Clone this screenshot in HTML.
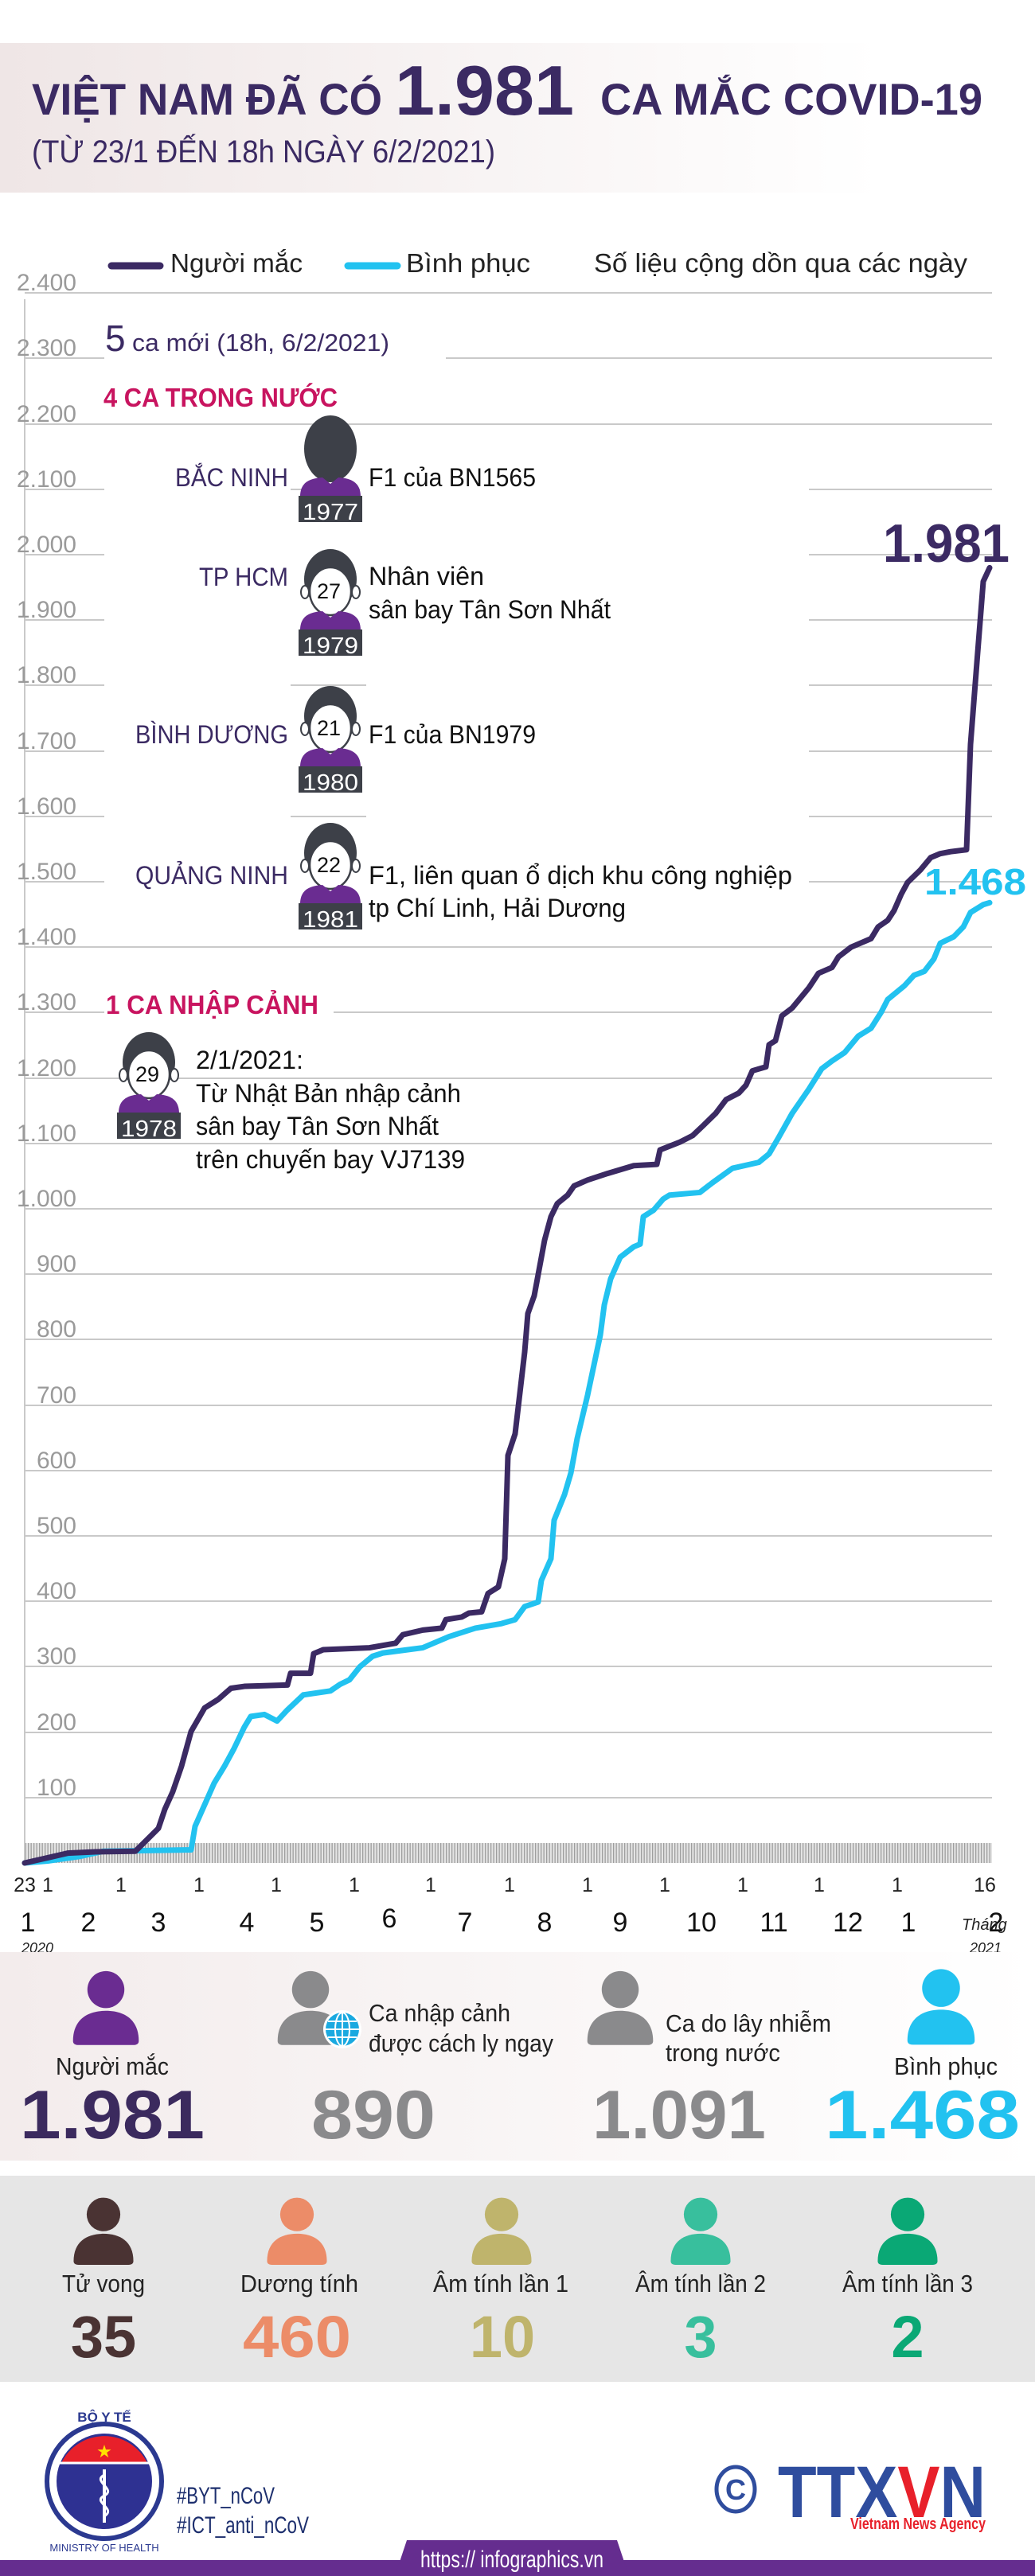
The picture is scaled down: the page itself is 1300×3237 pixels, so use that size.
<!DOCTYPE html>
<html><head><meta charset="utf-8"><style>
html,body{margin:0;padding:0;background:#fff}
svg{display:block}
text{font-family:"Liberation Sans Narrow","Liberation Sans","Noto Sans CJK SC",sans-serif}
</style></head><body>
<svg width="1300" height="3237" viewBox="0 0 1300 3237" xmlns="http://www.w3.org/2000/svg">
<defs>
<linearGradient id="hg" x1="0" x2="1" y1="0" y2="0"><stop offset="0" stop-color="#efe6e6"/><stop offset="0.85" stop-color="#ffffff"/></linearGradient>
<linearGradient id="pg" x1="0" x2="1" y1="0" y2="0"><stop offset="0" stop-color="#f3ecec"/><stop offset="1" stop-color="#ffffff"/></linearGradient>
<pattern id="hatch" width="3.5" height="30" patternUnits="userSpaceOnUse"><rect width="3.5" height="30" fill="#e4e4e4"/><rect width="1.3" height="30" fill="#9e9e9e"/></pattern>
<symbol id="person" viewBox="0 0 100 110"><circle cx="50" cy="29" r="27"/><path d="M2,104 C2,72 24,60 50,60 C76,60 98,72 98,104 Q98,110 90,110 L10,110 Q2,110 2,104Z"/></symbol>
<symbol id="pat" viewBox="0 0 80 135"><ellipse cx="40" cy="38" rx="33" ry="38" fill="#3d4048"/><ellipse cx="8" cy="54" rx="5" ry="8" fill="#fff" stroke="#3d4048" stroke-width="2"/><ellipse cx="72" cy="54" rx="5" ry="8" fill="#fff" stroke="#3d4048" stroke-width="2"/><ellipse cx="40" cy="53" rx="26" ry="30" fill="#fff" stroke="#3d4048" stroke-width="2.5"/><path d="M2,102 C2,84 14,79 30,78 L40,86 L50,78 C66,79 78,84 78,102 Z" fill="#6a2c91"/><rect x="0" y="101" width="80" height="33" fill="#3d4048"/></symbol>
<symbol id="patb" viewBox="0 0 80 135"><ellipse cx="40" cy="42" rx="33" ry="42" fill="#3d4048"/><path d="M2,102 C2,84 14,79 30,78 L40,86 L50,78 C66,79 78,84 78,102 Z" fill="#6a2c91"/><rect x="0" y="101" width="80" height="33" fill="#3d4048"/></symbol>
</defs>

<!-- header -->
<rect x="0" y="54" width="1300" height="188" fill="url(#hg)"/>
<text x="40" y="144" font-size="56" font-weight="bold" fill="#3b2a63" textLength="440" lengthAdjust="spacingAndGlyphs">VIỆT NAM ĐÃ CÓ</text>
<text x="496" y="144" font-size="88" font-weight="bold" fill="#3b2a63" textLength="225" lengthAdjust="spacingAndGlyphs">1.981</text>
<text x="754" y="144" font-size="56" font-weight="bold" fill="#3b2a63" textLength="480" lengthAdjust="spacingAndGlyphs">CA MẮC COVID-19</text>
<text x="40" y="204" font-size="40" fill="#3b2a63" textLength="582" lengthAdjust="spacingAndGlyphs">(TỪ 23/1 ĐẾN 18h NGÀY 6/2/2021)</text>

<!-- legend -->
<line x1="140" y1="334" x2="201" y2="334" stroke="#3b2a63" stroke-width="9" stroke-linecap="round"/>
<text x="214" y="342" font-size="33" fill="#222" textLength="166" lengthAdjust="spacingAndGlyphs">Người mắc</text>
<line x1="437" y1="334" x2="499" y2="334" stroke="#22c2f0" stroke-width="9" stroke-linecap="round"/>
<text x="510" y="342" font-size="33" fill="#222" textLength="156" lengthAdjust="spacingAndGlyphs">Bình phục</text>
<text x="746" y="342" font-size="33" fill="#222" textLength="469" lengthAdjust="spacingAndGlyphs">Số liệu cộng dồn qua các ngày</text>

<!-- grid -->
<g stroke="#c9c9c9" stroke-width="2">
<line x1="31" y1="368" x2="1246" y2="368"/>
<line x1="31" y1="450" x2="131" y2="450"/><line x1="560" y1="450" x2="1246" y2="450"/>
<line x1="31" y1="533" x2="1246" y2="533"/>
<line x1="31" y1="615" x2="131" y2="615"/><line x1="365" y1="615" x2="452" y2="615"/><line x1="1016" y1="615" x2="1246" y2="615"/>
<line x1="31" y1="697" x2="131" y2="697"/><line x1="1016" y1="697" x2="1246" y2="697"/>
<line x1="31" y1="779" x2="131" y2="779"/><line x1="1016" y1="779" x2="1246" y2="779"/>
<line x1="31" y1="861" x2="131" y2="861"/><line x1="365" y1="861" x2="460" y2="861"/><line x1="1016" y1="861" x2="1246" y2="861"/>
<line x1="31" y1="944" x2="131" y2="944"/><line x1="1016" y1="944" x2="1246" y2="944"/>
<line x1="31" y1="1026" x2="131" y2="1026"/><line x1="365" y1="1026" x2="460" y2="1026"/><line x1="1016" y1="1026" x2="1246" y2="1026"/>
<line x1="31" y1="1108" x2="131" y2="1108"/><line x1="1016" y1="1108" x2="1246" y2="1108"/>
<line x1="31" y1="1190" x2="1246" y2="1190"/>
<line x1="31" y1="1272" x2="131" y2="1272"/><line x1="419" y1="1272" x2="1246" y2="1272"/>
<line x1="31" y1="1355" x2="1246" y2="1355"/>
<line x1="31" y1="1437" x2="1246" y2="1437"/>
<line x1="31" y1="1519" x2="1246" y2="1519"/>
<line x1="31" y1="1601" x2="1246" y2="1601"/>
<line x1="31" y1="1683" x2="1246" y2="1683"/>
<line x1="31" y1="1766" x2="1246" y2="1766"/>
<line x1="31" y1="1848" x2="1246" y2="1848"/>
<line x1="31" y1="1930" x2="1246" y2="1930"/>
<line x1="31" y1="2012" x2="1246" y2="2012"/>
<line x1="31" y1="2094" x2="1246" y2="2094"/>
<line x1="31" y1="2177" x2="1246" y2="2177"/>
<line x1="31" y1="2259" x2="1246" y2="2259"/>
<line x1="31" y1="376" x2="31" y2="2341"/>
</g>
<g font-size="30" fill="#9a9a9a" text-anchor="end">
<text x="96" y="365">2.400</text><text x="96" y="447">2.300</text><text x="96" y="530">2.200</text><text x="96" y="612">2.100</text><text x="96" y="694">2.000</text><text x="96" y="776">1.900</text><text x="96" y="858">1.800</text><text x="96" y="941">1.700</text><text x="96" y="1023">1.600</text><text x="96" y="1105">1.500</text><text x="96" y="1187">1.400</text><text x="96" y="1269">1.300</text><text x="96" y="1352">1.200</text><text x="96" y="1434">1.100</text><text x="96" y="1516">1.000</text><text x="96" y="1598">900</text><text x="96" y="1680">800</text><text x="96" y="1763">700</text><text x="96" y="1845">600</text><text x="96" y="1927">500</text><text x="96" y="2009">400</text><text x="96" y="2091">300</text><text x="96" y="2174">200</text><text x="96" y="2256">100</text>
</g>
<rect x="31" y="2316" width="1215" height="25" fill="url(#hatch)"/>

<!-- curves -->
<g transform="translate(0,2341) scale(1,-0.822)" fill="none" stroke-linejoin="round" stroke-linecap="round">
<polyline vector-effect="non-scaling-stroke" stroke="#22c2f0" stroke-width="7" points="31,0 60,3 100,10 130,18 240,20 245,56 257,89 269,122 282,148 294,175 307,208 315,224 332,227 348,217 361,234 381,257 415,263 427,273 439,280 452,300 468,316 481,321 531,329 564,346 597,359 630,366 647,372 659,392 676,399 680,432 692,465 696,524 709,563 717,596 725,649 738,715 746,761 754,807 759,853 767,893 779,926 796,942 804,946 808,988 821,998 833,1015 841,1021 879,1025 895,1040 920,1062 953,1071 966,1084 978,1109 995,1146 1016,1183 1032,1214 1045,1226 1061,1239 1078,1264 1094,1276 1107,1301 1115,1320 1136,1341 1148,1357 1161,1363 1173,1382 1181,1406 1198,1416 1210,1431 1219,1453 1235,1465 1243,1468"/>
<polyline vector-effect="non-scaling-stroke" stroke="#3b2a63" stroke-width="7" points="31,0 60,8 85,15 120,17 170,18 180,30 199,53 207,82 217,109 228,148 240,201 257,237 274,250 290,267 307,270 361,272 365,290 390,290 394,320 406,326 464,329 497,336 506,349 531,356 555,359 560,372 580,376 589,382 605,384 613,412 626,422 634,465 638,623 647,656 659,781 663,840 671,867 684,952 692,988 700,1008 713,1021 721,1035 738,1044 763,1054 796,1066 825,1068 829,1090 854,1102 870,1112 883,1127 899,1146 912,1167 928,1177 937,1189 945,1211 962,1217 966,1251 974,1257 982,1295 995,1307 1016,1338 1028,1360 1045,1369 1053,1385 1069,1400 1094,1413 1103,1431 1115,1441 1123,1456 1132,1481 1140,1499 1156,1518 1169,1537 1181,1543 1194,1546 1214,1549 1219,1710 1227,1835 1235,1959 1243,1980"/>
</g>
<text x="1109" y="706" font-size="68" font-weight="bold" fill="#3b2a63" font-family="Liberation Sans" textLength="159" lengthAdjust="spacingAndGlyphs">1.981</text>
<text x="1161" y="1124" font-size="46" font-weight="bold" fill="#22c2f0" font-family="Liberation Sans" textLength="128" lengthAdjust="spacingAndGlyphs">1.468</text>

<!-- annotations -->
<text x="132" y="441" font-size="46" fill="#3b2a63">5</text>
<text x="166" y="441" font-size="31" fill="#3b2a63" textLength="323" lengthAdjust="spacingAndGlyphs">ca mới (18h, 6/2/2021)</text>
<text x="130" y="511" font-size="33" font-weight="bold" fill="#c8145f" textLength="294" lengthAdjust="spacingAndGlyphs">4 CA TRONG NƯỚC</text>

<g font-size="32" fill="#3b2a63" text-anchor="end">
<text x="362" y="611" textLength="142" lengthAdjust="spacingAndGlyphs">BẮC NINH</text>
<text x="362" y="736" textLength="112" lengthAdjust="spacingAndGlyphs">TP HCM</text>
<text x="362" y="934" textLength="192" lengthAdjust="spacingAndGlyphs">BÌNH DƯƠNG</text>
<text x="362" y="1111" textLength="192" lengthAdjust="spacingAndGlyphs">QUẢNG NINH</text>
</g>
<use href="#patb" x="375" y="522" width="80" height="135"/>
<use href="#pat" x="375" y="690" width="80" height="135"/>
<use href="#pat" x="375" y="862" width="80" height="135"/>
<use href="#pat" x="375" y="1034" width="80" height="135"/>
<use href="#pat" x="147" y="1297" width="80" height="135"/>
<g font-size="29" fill="#fff" text-anchor="middle">
<text x="415" y="653" textLength="70" lengthAdjust="spacingAndGlyphs">1977</text>
<text x="415" y="821" textLength="70" lengthAdjust="spacingAndGlyphs">1979</text>
<text x="415" y="993" textLength="70" lengthAdjust="spacingAndGlyphs">1980</text>
<text x="415" y="1165" textLength="70" lengthAdjust="spacingAndGlyphs">1981</text>
<text x="187" y="1428" textLength="70" lengthAdjust="spacingAndGlyphs">1978</text>
</g>
<g font-size="27" fill="#111" text-anchor="middle">
<text x="413" y="752">27</text><text x="413" y="924">21</text><text x="413" y="1096">22</text><text x="185" y="1359">29</text>
</g>
<g font-size="32" fill="#111">
<text x="463" y="611" textLength="210" lengthAdjust="spacingAndGlyphs">F1 của BN1565</text>
<text x="463" y="735" textLength="145" lengthAdjust="spacingAndGlyphs">Nhân viên</text>
<text x="463" y="777" textLength="304" lengthAdjust="spacingAndGlyphs">sân bay Tân Sơn Nhất</text>
<text x="463" y="934" textLength="210" lengthAdjust="spacingAndGlyphs">F1 của BN1979</text>
<text x="463" y="1111" textLength="532" lengthAdjust="spacingAndGlyphs">F1, liên quan ổ dịch khu công nghiệp</text>
<text x="463" y="1152" textLength="323" lengthAdjust="spacingAndGlyphs">tp Chí Linh, Hải Dương</text>
<text x="246" y="1343" textLength="135" lengthAdjust="spacingAndGlyphs">2/1/2021:</text>
<text x="246" y="1385" textLength="333" lengthAdjust="spacingAndGlyphs">Từ Nhật Bản nhập cảnh</text>
<text x="246" y="1426" textLength="305" lengthAdjust="spacingAndGlyphs">sân bay Tân Sơn Nhất</text>
<text x="246" y="1468" textLength="338" lengthAdjust="spacingAndGlyphs">trên chuyến bay VJ7139</text>
</g>
<text x="133" y="1274" font-size="33" font-weight="bold" fill="#c8145f" textLength="267" lengthAdjust="spacingAndGlyphs">1 CA NHẬP CẢNH</text>

<!-- x axis labels -->
<g font-size="25" fill="#222" text-anchor="middle">
<text x="31" y="2377">23</text><text x="60" y="2377">1</text><text x="152" y="2377">1</text><text x="250" y="2377">1</text><text x="347" y="2377">1</text><text x="445" y="2377">1</text><text x="541" y="2377">1</text><text x="640" y="2377">1</text><text x="738" y="2377">1</text><text x="835" y="2377">1</text><text x="933" y="2377">1</text><text x="1029" y="2377">1</text><text x="1127" y="2377">1</text><text x="1237" y="2377">16</text>
</g>
<g font-size="34" fill="#111" text-anchor="middle">
<text x="35" y="2427">1</text><text x="111" y="2427">2</text><text x="199" y="2427">3</text><text x="310" y="2427">4</text><text x="398" y="2427">5</text><text x="489" y="2422">6</text><text x="584" y="2427">7</text><text x="684" y="2427">8</text><text x="779" y="2427">9</text><text x="881" y="2427">10</text><text x="972" y="2427">11</text><text x="1065" y="2427">12</text><text x="1141" y="2427">1</text><text x="1251" y="2427">2</text>
</g>
<text x="1208" y="2425" font-size="20" font-style="italic" fill="#222">Tháng</text>
<text x="27" y="2454" font-size="18" font-style="italic" fill="#222">2020</text>
<text x="1218" y="2454" font-size="18" font-style="italic" fill="#222">2021</text>

<!-- panel 1 -->
<rect x="0" y="2453" width="1300" height="262" fill="url(#pg)"/>
<use href="#person" x="90" y="2475" width="86" height="95" fill="#6a2c91"/>
<use href="#person" x="347" y="2475" width="86" height="95" fill="#8a8a8c"/>
<circle cx="430" cy="2550" r="24" fill="#fff"/>
<circle cx="430" cy="2550" r="21" fill="#1aa9e0"/>
<g stroke="#fff" stroke-width="2" fill="none"><ellipse cx="430" cy="2550" rx="9" ry="21"/><line x1="409" y1="2550" x2="451" y2="2550"/><line x1="412" y1="2540" x2="448" y2="2540"/><line x1="412" y1="2560" x2="448" y2="2560"/><line x1="430" y1="2529" x2="430" y2="2571"/></g>
<use href="#person" x="736" y="2475" width="86" height="95" fill="#8a8a8c"/>
<use href="#person" x="1138" y="2472" width="88" height="98" fill="#22c2f0"/>
<g font-size="31" fill="#222">
<text x="141" y="2607" text-anchor="middle" textLength="142" lengthAdjust="spacingAndGlyphs">Người mắc</text>
<text x="463" y="2540" textLength="178" lengthAdjust="spacingAndGlyphs">Ca nhập cảnh</text>
<text x="463" y="2578" textLength="232" lengthAdjust="spacingAndGlyphs">được cách ly ngay</text>
<text x="836" y="2553" textLength="208" lengthAdjust="spacingAndGlyphs">Ca do lây nhiễm</text>
<text x="836" y="2590" textLength="144" lengthAdjust="spacingAndGlyphs">trong nước</text>
<text x="1188" y="2607" text-anchor="middle" textLength="130" lengthAdjust="spacingAndGlyphs">Bình phục</text>
</g>
<g font-size="86" font-weight="bold" font-family="Liberation Sans">
<text x="25" y="2687" fill="#3b2a5e" textLength="232" lengthAdjust="spacingAndGlyphs">1.981</text>
<text x="391" y="2687" fill="#8a8a8c" textLength="156" lengthAdjust="spacingAndGlyphs">890</text>
<text x="744" y="2687" fill="#8a8a8c" textLength="218" lengthAdjust="spacingAndGlyphs">1.091</text>
<text x="1036" y="2687" fill="#22c2f0" textLength="245" lengthAdjust="spacingAndGlyphs">1.468</text>
</g>

<!-- panel 2 -->
<rect x="0" y="2734" width="1300" height="259" fill="#e6e6e6"/>
<use href="#person" x="90" y="2760" width="80" height="86" fill="#4a3333"/>
<use href="#person" x="333" y="2760" width="80" height="86" fill="#ec8c68"/>
<use href="#person" x="590" y="2760" width="80" height="86" fill="#bfb46c"/>
<use href="#person" x="840" y="2760" width="80" height="86" fill="#38bf9d"/>
<use href="#person" x="1100" y="2760" width="80" height="86" fill="#0aa875"/>
<g font-size="31" fill="#222" text-anchor="middle">
<text x="130" y="2880" textLength="104" lengthAdjust="spacingAndGlyphs">Tử vong</text>
<text x="376" y="2880" textLength="148" lengthAdjust="spacingAndGlyphs">Dương tính</text>
<text x="629" y="2880" textLength="170" lengthAdjust="spacingAndGlyphs">Âm tính lần 1</text>
<text x="880" y="2880" textLength="164" lengthAdjust="spacingAndGlyphs">Âm tính lần 2</text>
<text x="1140" y="2880" textLength="164" lengthAdjust="spacingAndGlyphs">Âm tính lần 3</text>
</g>
<g font-size="74" font-weight="bold" font-family="Liberation Sans" text-anchor="middle">
<text x="130" y="2962" fill="#4a3333">35</text>
<text x="373" y="2962" fill="#ec8c68" textLength="136" lengthAdjust="spacingAndGlyphs">460</text>
<text x="631" y="2962" fill="#bfb46c">10</text>
<text x="880" y="2962" fill="#38bf9d">3</text>
<text x="1140" y="2962" fill="#0aa875">2</text>
</g>

<!-- footer logos -->
<circle cx="131" cy="3118" r="72" fill="none" stroke="#2b3990" stroke-width="6"/>
<circle cx="131" cy="3118" r="60" fill="#2e3192"/>
<path d="M77,3095 A60,60 0 0 1 185,3095 Z" fill="#e8202a"/>
<line x1="74" y1="3095" x2="188" y2="3095" stroke="#fff" stroke-width="3"/>
<text x="131" y="3087" font-size="18" fill="#ffe100" text-anchor="middle">★</text>
<path d="M131,3103 L131,3170" stroke="#fff" stroke-width="4"/>
<path d="M131,3110 C115,3118 147,3128 131,3136 C115,3144 147,3152 131,3162" stroke="#fff" stroke-width="3" fill="none"/>
<text x="131" y="3043" font-size="17" fill="#2b3990" text-anchor="middle" font-weight="bold">BỘ Y TẾ</text>
<text x="131" y="3206" font-size="13" fill="#2b3990" text-anchor="middle">MINISTRY OF HEALTH</text>
<text x="222" y="3146" font-size="30" fill="#1d2f6e" textLength="123" lengthAdjust="spacingAndGlyphs">#BYT_nCoV</text>
<text x="222" y="3183" font-size="30" fill="#1d2f6e" textLength="166" lengthAdjust="spacingAndGlyphs">#ICT_anti_nCoV</text>

<ellipse cx="924" cy="3128" rx="24" ry="28" fill="none" stroke="#2f4d9e" stroke-width="5"/>
<text x="924" y="3141" font-size="36" font-weight="bold" fill="#2f4d9e" text-anchor="middle" font-family="Liberation Sans">C</text>
<text x="977" y="3163" font-size="92" font-weight="bold" fill="#2f4d9e" font-family="Liberation Sans" textLength="261" lengthAdjust="spacingAndGlyphs">TTX<tspan fill="#e8202a">V</tspan>N</text>
<text x="1068" y="3178" font-size="20" font-weight="bold" fill="#e8202a" font-family="Liberation Sans" textLength="170" lengthAdjust="spacingAndGlyphs">Vietnam News Agency</text>

<rect x="0" y="3217" width="1300" height="20" fill="#652d8f"/>
<polygon points="496,3237 511,3192 775,3192 790,3237" fill="#652d8f"/>
<text x="643" y="3226" font-size="30" fill="#fff" text-anchor="middle" textLength="230" lengthAdjust="spacingAndGlyphs">https:// infographics.vn</text>
</svg>
</body></html>
